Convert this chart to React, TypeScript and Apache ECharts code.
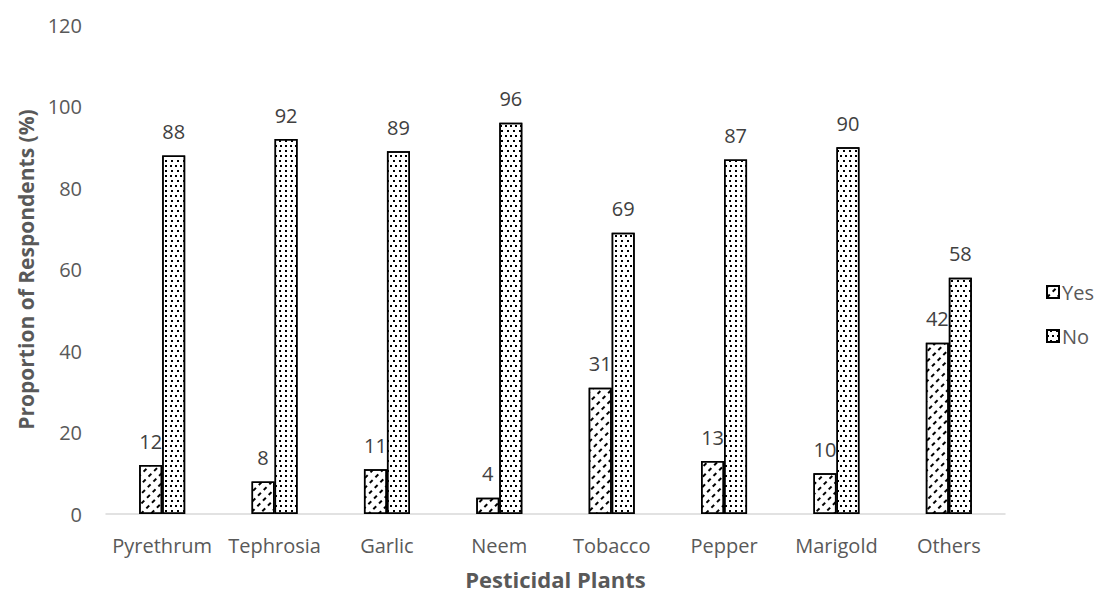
import React, { useEffect, useRef } from "react";
import * as echarts from "echarts";

const plants = ["Pyrethrum", "Tephrosia", "Garlic", "Neem", "Tobacco", "Pepper", "Marigold", "Others"];
const yesValues = [12, 8, 11, 4, 31, 13, 10, 42];
const noValues = [88, 92, 89, 96, 69, 87, 90, 58];
const yTicks = { min: 0, max: 120, interval: 20 };

const FONT = "'Open Sans', 'Noto Sans', sans-serif";
const TEXT = "#595959";

// dashed upward-diagonal hatch for "Yes", small dot grid for "No"
const hatchDecal = {
  color: "#000",
  symbol: "rect",
  symbolSize: 1,
  dashArrayX: [4, 3.5],
  dashArrayY: [1.3, 5],
  rotation: -Math.PI / 4,
};
const dotDecal = {
  color: "#000",
  symbol: "rect",
  symbolSize: 1,
  dashArrayX: [[1.6, 2.6], [0, 2.1, 1.6, 0.5]],
  dashArrayY: [1.6, 2.6],
  rotation: 0,
};

export default function App() {
  const ref = useRef<HTMLDivElement>(null);

  useEffect(() => {
    if (!ref.current) return;
    const chart = echarts.init(ref.current, undefined, { renderer: "svg" });
    const label = {
      show: true,
      position: "top",
      distance: 14,
      color: "#404040",
      fontSize: 20,
      fontFamily: FONT,
    };
    chart.setOption({
      animation: false,
      backgroundColor: "#fff",
      textStyle: { fontFamily: FONT },
      grid: {
        left: 106,
        right: 93,
        top: 25,
        bottom: 79,
        containLabel: false,
        outerBoundsMode: "none",
      },
      legend: {
        orient: "vertical",
        left: 1041,
        top: 277,
        itemWidth: 12,
        itemHeight: 12,
        itemGap: 24,
        icon: "rect",
        textStyle: { color: TEXT, fontSize: 20, fontFamily: FONT, padding: [0, 0, 0, -2] },
        data: ["Yes", "No"],
      },
      xAxis: {
        type: "category",
        data: plants,
        name: "Pesticidal Plants",
        nameLocation: "middle",
        nameGap: 54,
        nameTextStyle: { color: TEXT, fontSize: 22, fontWeight: "bold", fontFamily: FONT },
        axisLine: { lineStyle: { color: "#d9d9d9", width: 1.5 } },
        axisTick: { show: false },
        axisLabel: { color: TEXT, fontSize: 20, margin: 21, fontFamily: FONT, interval: 0 },
      },
      yAxis: {
        type: "value",
        min: yTicks.min,
        max: yTicks.max,
        interval: yTicks.interval,
        name: "Proportion of Respondents (%)",
        nameLocation: "middle",
        nameGap: 69,
        nameTextStyle: { color: TEXT, fontSize: 21, fontWeight: "bold", fontFamily: FONT },
        axisLine: { show: false },
        axisTick: { show: false },
        splitLine: { show: false },
        axisLabel: { color: TEXT, fontSize: 20, margin: 24, fontFamily: FONT },
      },
      series: [
        {
          name: "Yes",
          type: "bar",
          data: yesValues,
          barWidth: 23,
          barGap: "0%",
          itemStyle: { color: "#fff", borderColor: "#000", borderWidth: 1.5, decal: hatchDecal },
          label,
        },
        {
          name: "No",
          type: "bar",
          data: noValues,
          barWidth: 23,
          barGap: "0%",
          itemStyle: { color: "#fff", borderColor: "#000", borderWidth: 1.5, decal: dotDecal },
          label,
        },
      ],
    });
    return () => chart.dispose();
  }, []);

  return (
    <div
      ref={ref}
      style={{ position: "fixed", left: 0, top: 0, width: 1098, height: 593 }}
    />
  );
}
